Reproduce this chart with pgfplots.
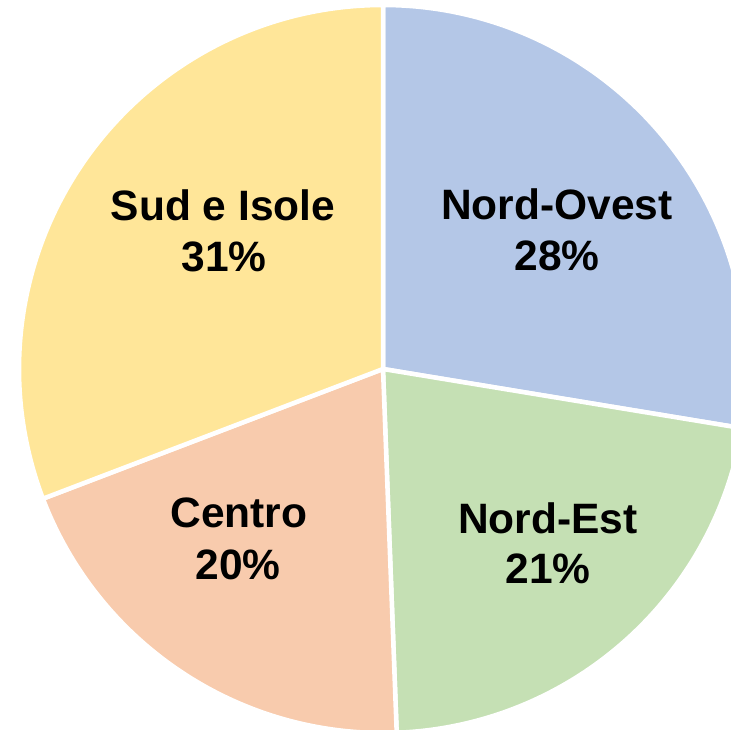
\documentclass[border=0pt]{standalone}
\usepackage{pgfplots}
\pgfplotsset{compat=1.18}
\usepackage{fontspec}
\setmainfont{Liberation Sans}
\definecolor{cNO}{HTML}{B4C7E7}
\definecolor{cNE}{HTML}{C5E0B4}
\definecolor{cCE}{HTML}{F8CBAD}
\definecolor{cSU}{HTML}{FFE699}
\begin{document}
\begin{tikzpicture}
% shares (percent), clockwise from 12 o'clock
\def\vNO{27.6}
\def\vNE{21.8}
\def\vCE{19.8}
\def\vSU{30.8}
\pgfmathsetmacro{\aA}{90}
\pgfmathsetmacro{\aB}{\aA-3.6*\vNO}
\pgfmathsetmacro{\aC}{\aB-3.6*\vNE}
\pgfmathsetmacro{\aD}{\aC-3.6*\vCE}
\pgfmathsetmacro{\aE}{\aD-3.6*\vSU}
\begin{axis}[width=731pt, height=729pt, scale only axis,
  xmin=0, xmax=731, ymin=-729, ymax=0, hide axis,
  clip bounding box=upper bound]
\pgfplotsset{wedge/.style={draw=white, line width=4.5pt, line join=round, samples=120, variable=\t}}
\addplot[wedge, fill=cNO, domain=\aB:\aA] ({383+364*cos(t)},{-369+364*sin(t)}) -- (axis cs:383,-369) -- cycle;
\addplot[wedge, fill=cNE, domain=\aC:\aB] ({383+364*cos(t)},{-369+364*sin(t)}) -- (axis cs:383,-369) -- cycle;
\addplot[wedge, fill=cCE, domain=\aD:\aC] ({383+364*cos(t)},{-369+364*sin(t)}) -- (axis cs:383,-369) -- cycle;
\addplot[wedge, fill=cSU, domain=\aE:\aD] ({383+364*cos(t)},{-369+364*sin(t)}) -- (axis cs:383,-369) -- cycle;
\tikzset{lab/.style={anchor=base, inner sep=0pt, font=\fontsize{42.5}{50}\selectfont\bfseries}}
\node[lab] at (axis cs:557,-220) {Nord-Ovest};
\node[lab] at (axis cs:557,-271) {28\%};
\node[lab] at (axis cs:223,-221) {Sud e Isole};
\node[lab] at (axis cs:224,-272) {31\%};
\node[lab] at (axis cs:239,-527) {Centro};
\node[lab] at (axis cs:238,-579) {20\%};
\node[lab] at (axis cs:548,-533) {Nord-Est};
\node[lab] at (axis cs:548,-583) {21\%};
\coordinate (LL) at (rel axis cs:0,0);
\coordinate (UR) at (rel axis cs:1,1);
\end{axis}
\pgfresetboundingbox
\path[use as bounding box] (LL) rectangle (UR);
\end{tikzpicture}
\end{document}
